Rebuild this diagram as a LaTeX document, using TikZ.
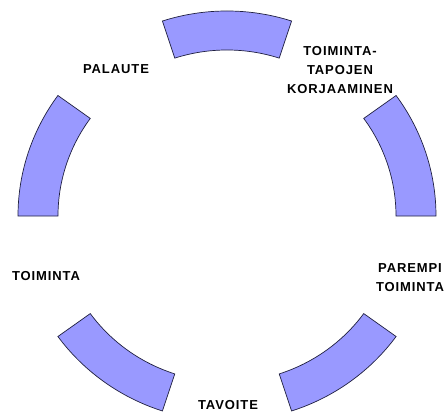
\documentclass[tikz,border=0pt]{standalone}
\usepackage{fontspec}
\setmainfont{Liberation Sans}
\usepackage{tikz}
\usetikzlibrary{positioning}
\definecolor{ringFill}{HTML}{9999FF}
\definecolor{ringLine}{HTML}{202040}

\begin{document}
\begin{tikzpicture}[
  x=1pt, y=1pt,
  font=\fontsize{13}{19}\selectfont\bfseries\addfontfeature{LetterSpace=7},
  seg/.style={draw=ringLine, line width=0.7pt, fill=ringFill},
  lab/.style={align=center, inner sep=0pt}
]
\useasboundingbox (-227,-196) rectangle (219,216);
% ring segments
\foreach \a in {0,72,144,216,288}{
  \draw[seg] ({209*cos(\a)},{205*sin(\a)})
    arc[start angle=\a, end angle=\a+36, x radius=209pt, y radius=205pt]
    -- ({169*cos(\a+36)},{166*sin(\a+36)})
    arc[start angle=\a+36, end angle=\a, x radius=169pt, y radius=166pt]
    -- cycle;
}
% labels in the gaps
\node[lab] (palaute) at (-111,147) {PALAUTE};
\node[lab] (korjaus) at (113,146) {TOIMINTA-\\TAPOJEN\\KORJAAMINEN};
\node[lab] (parempi) at (183,-62) {PAREMPI\\TOIMINTA};
\node[lab] (tavoite) at (1,-189.5) {TAVOITE};
\node[lab] (toiminta) at (-181,-60.5) {TOIMINTA};
\end{tikzpicture}
\end{document}
